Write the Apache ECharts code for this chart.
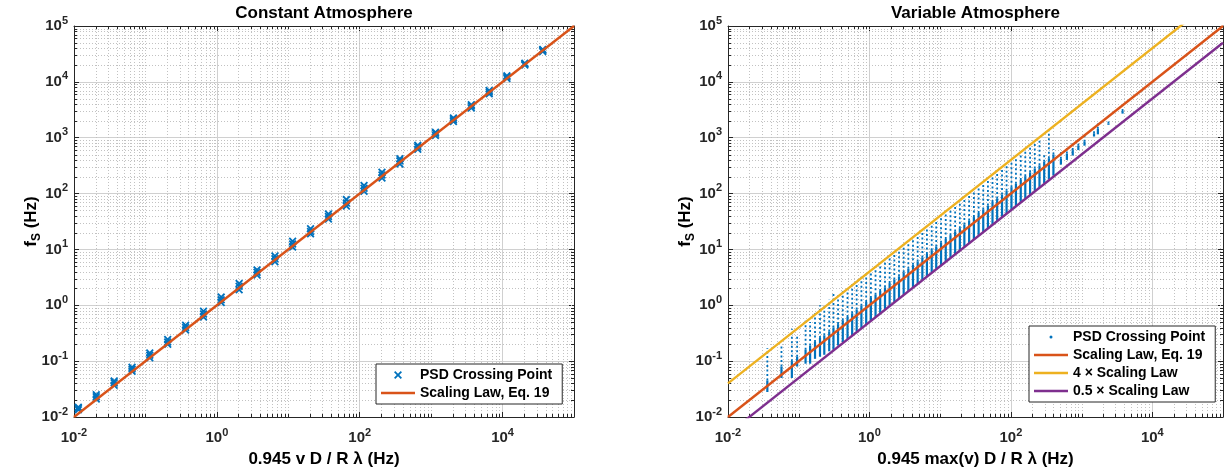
<!DOCTYPE html>
<html><head><meta charset="utf-8">
<script src="https://cdn.jsdelivr.net/npm/echarts@6/dist/echarts.min.js"></script>
<style>
html,body{margin:0;padding:0;background:#fff;overflow:hidden;width:1226px;height:474px}
#c1{position:absolute;left:0;top:0;width:613px;height:474px}
#c2{position:absolute;left:613px;top:0;width:613px;height:474px}
</style>
</head><body><div id="c1"></div><div id="c2"></div>
<script>
const FONT = '"Liberation Sans", Arial, Helvetica, sans-serif';
const BLUE = '#0072BD', RED = '#D95319', YELLOW = '#EDB120', PURPLE = '#7E2F8E';

// ---- Left panel: constant atmosphere ----
const constX     = [0.0115,0.0205,0.0365,0.065,0.115,0.205,0.365,0.65,1.15,2.05,3.65,6.5,11.5,20.5,36.5,65,115,205,365,650,1150,2050,3650,6500,11500,20500,36500];
const constYLow  = [0.0135,0.021,0.037,0.066,0.115,0.2,0.36,0.62,1.12,1.9,3.5,6.0,11,19,35,60,110,190,340,620,1100,1950,3400,6100,11500,20000,35000];
const constYMid  = [0.0145,0.023,0.041,0.072,0.128,0.22,0.4,0.7,1.25,2.2,3.9,6.8,12.5,21,39,68,125,215,385,680,1200,2100,3700,6600,12200,21000,37000];
const constYHigh = [0.015,0.025,0.044,0.078,0.14,0.245,0.44,0.78,1.4,2.45,4.3,7.6,14,23.5,43,78,140,240,420,730,1250,2250,3900,7000,12800,21500,38000];

// ---- Scaling-law lines (two end points each) ----
const lawX     = [0.01, 100000];
const lawY     = [0.01, 100000];
const law4Y    = [0.04, 400000];
const lawHalfY = [0.005, 50000];

// ---- Right panel: variable atmosphere, columns of crossing points ----
const varX   = [0.036,0.057,0.08,0.095,0.125,0.145,0.17,0.2,0.23,0.27,0.31,0.36,0.42,0.49,0.57,0.66,0.77,0.9,1.05,1.22,1.42,1.66,1.93,2.25,2.62,3.05,3.55,4.13,4.81,5.6,6.5,7.6,8.8,10.3,12,14,16.3,19,22,25.7,30,35,40.7,47.4,55,64,75,87,102,118,138,160,187,218,254,296,345,400,510,620,750,900,1100,1500,1700,2400,3800];
const varLo  = [0.028,0.05,0.05,0.08,0.09,0.09,0.11,0.12,0.13,0.15,0.16,0.19,0.22,0.25,0.29,0.34,0.39,0.46,0.53,0.62,0.72,0.84,0.98,1.14,1.33,1.55,1.8,2.1,2.45,2.85,3.3,3.85,4.5,5.2,6.1,7.1,8.3,9.6,11.2,13,15.2,17.8,20.6,24,28,32.5,38,44,52,60,70,82,95,112,130,152,180,210,330,400,480,600,720,1050,1150,1700,2700];
const varMid = [0.045,0.08,0.1,0.12,0.16,0.19,0.22,0.26,0.29,0.34,0.4,0.46,0.54,0.62,0.72,0.84,0.98,1.15,1.35,1.55,1.8,2.1,2.5,2.9,3.3,3.9,4.5,5.3,6.1,7.2,8.3,9.7,11.3,13.2,15.4,18,21,24,28,33,38,45,52,61,71,82,96,112,130,150,175,205,240,280,320,370,430,500,420,520,600,720,850,1200,1450,1800,3000];
const varHi  = [0.17,0.2,0.38,0.3,0.55,0.5,0.72,1.0,0.95,1.25,1.6,1.5,1.9,2.0,2.4,2.7,3.3,3.7,4.1,5.0,5.6,6.6,7.8,9.0,10.5,12.5,14,16.5,19,22,26,30,35,40,47,55,62,74,85,100,115,135,160,185,215,250,290,320,390,440,540,620,700,850,950,500,1350,620,560,650,800,980,1100,1350,1800,1950,3400];

// ---- Axis ticks ----
const xTickExps = [-2, 0, 2, 4];
const yTickExps = [-2, -1, 0, 1, 2, 3, 4, 5];
const minorMultiples = [2, 3, 4, 5, 6, 7, 8, 9];
const decades = [-2, -1, 0, 1, 2, 3, 4];
const xOddDecades = [0.1, 10, 1000];

const xMinor = [];
const yMinor = [];
decades.forEach(d => minorMultiples.forEach(m => { xMinor.push(m * Math.pow(10, d)); yMinor.push(m * Math.pow(10, d)); }));
xOddDecades.forEach(v => xMinor.push(v));

const AX = '#262626';
const tickRich = {
  b: {fontFamily: FONT, fontSize: 15, fontWeight: 'bold', color: AX, lineHeight: 22},
  s: {fontFamily: FONT, fontSize: 11, fontWeight: 'bold', color: AX, lineHeight: 11, verticalAlign: 'top'}
};
function supLabel(v, allowed) {
  const e = Math.round(Math.log10(v));
  return allowed.includes(e) ? '{b|10}{s|' + e + '}' : '';
}

function minorGrid(values, dir) {
  return {
    type: 'custom', silent: true, z: 1,
    data: values.map(v => dir === 'x' ? [v, 1] : [1, v]),
    encode: {x: 0, y: 1},
    renderItem(params, api) {
      const cs = params.coordSys;
      const p = api.coord([api.value(0), api.value(1)]);
      const ch = [];
      const g = {stroke: '#c2c2c2', lineWidth: 1, lineDash: [1, 2]};
      const t = {stroke: AX, lineWidth: 1};
      if (dir === 'x') {
        const x = Math.round(p[0]) + 0.5, y0 = cs.y, y1 = cs.y + cs.height;
        ch.push({type: 'line', shape: {x1: x, y1: y0, x2: x, y2: y1}, style: g});
        ch.push({type: 'line', shape: {x1: x, y1: y1, x2: x, y2: y1 - 3}, style: t});
        ch.push({type: 'line', shape: {x1: x, y1: y0, x2: x, y2: y0 + 3}, style: t});
      } else {
        const y = Math.round(p[1]) + 0.5, x0 = cs.x, x1 = cs.x + cs.width;
        ch.push({type: 'line', shape: {x1: x0, y1: y, x2: x1, y2: y}, style: g});
        ch.push({type: 'line', shape: {x1: x0, y1: y, x2: x0 + 3, y2: y}, style: t});
        ch.push({type: 'line', shape: {x1: x1, y1: y, x2: x1 - 3, y2: y}, style: t});
      }
      return {type: 'group', children: ch};
    }
  };
}

function baseOption(cfg) {
  const common = {type: 'log', logBase: 10, min: 0.01, max: 100000};
  return {
    animation: false,
    backgroundColor: '#fff',
    grid: {left: cfg.gl, right: cfg.gr, top: 23, bottom: 57, containLabel: false},
    xAxis: [
      Object.assign({}, common, {
        position: 'bottom', interval: 2,
        name: cfg.xName, nameLocation: 'middle', nameGap: 34, nameMoveOverlap: false,
        nameTextStyle: {fontFamily: FONT, fontSize: 17, fontWeight: 'bold', color: '#000'},
        axisLine: {show: true, lineStyle: {color: AX, width: 1}},
        axisTick: {show: true, inside: true, length: 5, lineStyle: {color: AX}},
        axisLabel: {margin: 10, showMinLabel: true, showMaxLabel: true, hideOverlap: false,
          formatter: v => supLabel(v, xTickExps), rich: tickRich},
        splitLine: {show: true, lineStyle: {color: '#d0d0d0', width: 1}}
      }),
      Object.assign({}, common, {
        position: 'top', interval: 2,
        name: cfg.title, nameLocation: 'middle', nameGap: 4, nameMoveOverlap: false,
        nameTextStyle: {fontFamily: FONT, fontSize: 17, fontWeight: 'bold', color: '#000'},
        axisLine: {show: true, lineStyle: {color: AX, width: 1}},
        axisTick: {show: true, inside: true, length: 5, lineStyle: {color: AX}},
        axisLabel: {show: false}, splitLine: {show: false}
      })
    ],
    yAxis: [
      Object.assign({}, common, {
        position: 'left', interval: 1,
        name: '{n|f}{sub|S}{n| (Hz)}', nameLocation: 'middle', nameGap: 31, nameRotate: 90, nameMoveOverlap: false,
        nameTextStyle: {fontFamily: FONT, fontSize: 17, fontWeight: 'bold', color: '#000',
          rich: {n: {fontFamily: FONT, fontSize: 17, fontWeight: 'bold', color: '#000', lineHeight: 24},
                 sub: {fontFamily: FONT, fontSize: 12, fontWeight: 'bold', color: '#000', lineHeight: 14, verticalAlign: 'bottom'}}},
        axisLine: {show: true, lineStyle: {color: AX, width: 1}},
        axisTick: {show: true, inside: true, length: 5, lineStyle: {color: AX}},
        axisLabel: {margin: 6, showMinLabel: true, showMaxLabel: true, hideOverlap: false,
          formatter: v => supLabel(v, yTickExps), rich: tickRich},
        splitLine: {show: true, lineStyle: {color: '#d0d0d0', width: 1}}
      }),
      Object.assign({}, common, {
        position: 'right', interval: 1,
        axisLine: {show: true, lineStyle: {color: AX, width: 1}},
        axisTick: {show: true, inside: true, length: 5, lineStyle: {color: AX}},
        axisLabel: {show: false}, splitLine: {show: false}
      })
    ],
    legend: Object.assign({
      orient: 'vertical', backgroundColor: '#fff', borderColor: AX, borderWidth: 1, borderRadius: 0,
      padding: [3, 10, 3, 5], itemGap: 2, itemWidth: 34, itemHeight: cfg.itemH,
      selectedMode: false,
      textStyle: {fontFamily: FONT, fontSize: 14, fontWeight: 'bold', color: '#000', lineHeight: 16}
    }, cfg.legend),
    series: [minorGrid(xMinor, 'x'), minorGrid(yMinor, 'y')].concat(cfg.series)
  };
}

function lawLine(name, ys, color) {
  return {
    name: name, type: 'line', symbol: 'none', showSymbol: false, clip: true, z: 3,
    data: lawX.map((x, i) => [x, ys[i]]),
    lineStyle: {color: color, width: 2.4}, itemStyle: {color: color}
  };
}

const BAR = 'path://M0,0 L34,0 L34,2.4 L0,2.4 Z';
const XPATH = 'path://M0,1.6 L1.6,0 L5,3.4 L8.4,0 L10,1.6 L6.6,5 L10,8.4 L8.4,10 L5,6.6 L1.6,10 L0,8.4 L3.4,5 Z';
const constData = [];
constX.forEach((x, i) => { constData.push([x, constYLow[i]], [x, constYMid[i]], [x, constYHigh[i]]); });

const chart1 = echarts.init(document.getElementById('c1'), null, {renderer: 'canvas'});
chart1.setOption(baseOption({
  gl: 74, gr: 39, itemH: 8,
  title: 'Constant Atmosphere',
  xName: '0.945 v D / R \u03bb (Hz)',
  legend: {left: 376, top: 364, data: [{name: 'PSD Crossing Point', icon: XPATH}, {name: 'Scaling Law, Eq. 19', icon: BAR}]},
  series: [
    {name: 'PSD Crossing Point', type: 'scatter', symbol: XPATH, symbolSize: 8, z: 2,
     data: constData, itemStyle: {color: BLUE, opacity: 1}},
    lawLine('Scaling Law, Eq. 19', lawY, RED)
  ]
}));

const varData = varX.map((x, i) => [x, varLo[i], varMid[i], varHi[i]]);
const chart2 = echarts.init(document.getElementById('c2'), null, {renderer: 'canvas'});
chart2.setOption(baseOption({
  gl: 115, gr: 1, itemH: 3,
  title: 'Variable Atmosphere',
  xName: '0.945 max(v) D / R \u03bb (Hz)',
  legend: {left: 416, top: 326, data: [
    {name: 'PSD Crossing Point', icon: 'circle'},
    {name: 'Scaling Law, Eq. 19', icon: BAR},
    {name: '4 \u00d7 Scaling Law', icon: BAR},
    {name: '0.5 \u00d7 Scaling Law', icon: BAR}]},
  series: [
    {name: 'PSD Crossing Point', type: 'custom', z: 2, data: varData,
     encode: {x: 0, y: [1, 2, 3]}, itemStyle: {color: BLUE},
     renderItem(params, api) {
       const x = api.value(0);
       const a = api.coord([x, api.value(1)]);
       const b = api.coord([x, api.value(2)]);
       const c = api.coord([x, api.value(3)]);
       return {type: 'group', children: [
         {type: 'line', shape: {x1: a[0], y1: a[1], x2: b[0], y2: b[1]}, style: {stroke: BLUE, lineWidth: 2.2}},
         {type: 'line', shape: {x1: b[0], y1: b[1], x2: c[0], y2: c[1]}, style: {stroke: BLUE, lineWidth: 1.8, lineDash: [2, 2.5]}}
       ]};
     }},
    lawLine('Scaling Law, Eq. 19', lawY, RED),
    lawLine('4 \u00d7 Scaling Law', law4Y, YELLOW),
    lawLine('0.5 \u00d7 Scaling Law', lawHalfY, PURPLE)
  ]
}));
</script>
</body></html>
